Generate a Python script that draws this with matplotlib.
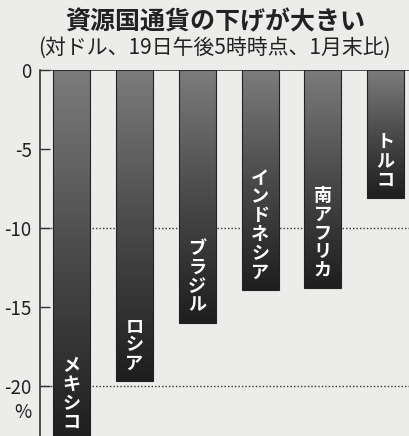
"""
Resource-country currencies vs USD: bar chart of % change since end of January.
"""
import numpy as np
import matplotlib
matplotlib.use("Agg")
import matplotlib.pyplot as plt
from matplotlib.colors import LinearSegmentedColormap

plt.rcParams["font.family"] = ["Noto Sans CJK JP", "DejaVu Sans"]

TITLE = "資源国通貨の下げが大きい"
SUBTITLE = "(対ドル、19日午後5時時点、1月末比)"
COUNTRIES = ["メキシコ", "ロシア", "ブラジル", "インドネシア", "南アフリカ", "トルコ"]
CHANGE = [-23.4, -19.7, -16.0, -13.9, -13.8, -8.1]
YTICKS = [0, -5, -10, -15, -20]
GRID_AT = [-10, -20]

BG = "#ececea"
BAR_CMAP = LinearSegmentedColormap.from_list("bar", ["#7c7c7c", "#4a4a4a", "#1e1e1e"])


def main():
    fig = plt.figure(figsize=(4.09, 4.36), dpi=100, facecolor=BG)
    ax = fig.add_axes([0.098, 0.0, 0.902, 0.8394])
    ax.set_facecolor(BG)

    x = np.arange(len(COUNTRIES))
    width = 0.59
    ax.set_xlim(-0.5, 5.37)
    ax.set_ylim(-23.16, 0)

    for g in GRID_AT:
        ax.axhline(g, color="#333333", linestyle=(0, (1, 1.5)), linewidth=1.0, zorder=1)

    grad = np.linspace(0, 1, 256).reshape(-1, 1)
    bars = ax.bar(x, CHANGE, width=width, color="none", edgecolor="#222222",
                  linewidth=0.8, zorder=3)
    for xi, val, bar in zip(x, CHANGE, bars):
        im = ax.imshow(grad, cmap=BAR_CMAP, aspect="auto", zorder=2,
                       extent=(xi - width / 2, xi + width / 2, val, 0), origin="upper")
        im.set_clip_path(bar)

    for xi, val, name in zip(x, CHANGE, COUNTRIES):
        ax.annotate("\n".join(name), xy=(xi, val), xytext=(0, 6), textcoords="offset points",
                    ha="center", va="bottom", color="white", fontsize=13, weight="bold",
                    linespacing=0.98, zorder=4, annotation_clip=False)

    ax.axhline(0, color="#333333", linewidth=1.2, zorder=5)

    for s in ["top", "right", "bottom"]:
        ax.spines[s].set_visible(False)
    ax.spines["left"].set_color("#333333")
    ax.spines["left"].set_linewidth(1.2)

    ax.set_xticks([])
    ax.set_yticks(YTICKS)
    ax.set_yticklabels([str(t) for t in YTICKS], fontsize=13.5, color="#222222")
    ax.tick_params(axis="y", direction="in", length=7, width=1.0, color="#333333", pad=6)

    fig.text(0.055, 0.055, "%", fontsize=13.5, color="#222222", ha="center", va="center")
    fig.text(0.525, 0.950, TITLE, fontsize=18, weight="bold", color="#222222",
             ha="center", va="center")
    fig.text(0.525, 0.890, SUBTITLE, fontsize=15, color="#222222", ha="center", va="center")

    fig.savefig("out.png", dpi=100, facecolor=BG)
    plt.close(fig)


if __name__ == "__main__":
    main()
